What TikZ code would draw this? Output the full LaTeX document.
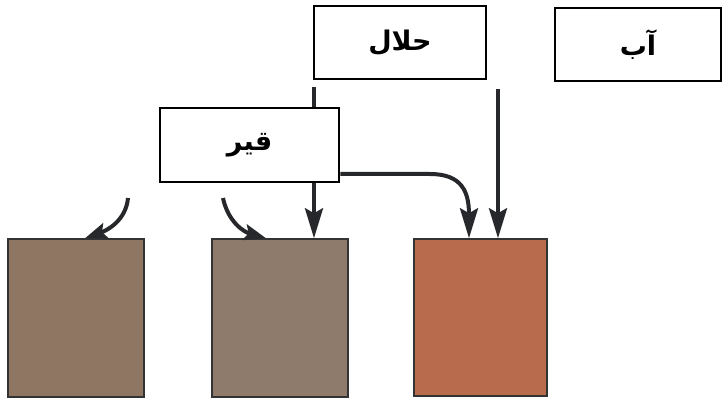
\documentclass[tikz,border=0pt]{standalone}
\usepackage{fontspec}
\usetikzlibrary{arrows.meta,calc}
\TeXXeTstate=1
\newfontfamily\arabicfont[Script=Arabic]{DejaVu Sans}
\definecolor{arrowc}{HTML}{26282B}
\definecolor{woodA}{HTML}{8F7662}
\definecolor{woodB}{HTML}{8E7B6C}
\definecolor{woodC}{HTML}{B96B4E}
\tikzset{
  labelbox/.style={draw=black, line width=2.6pt, fill=white, inner sep=0pt,
    font=\arabicfont\bfseries\fontsize{27}{30}\selectfont},
  sample/.style={draw=black!80, line width=1.5pt, inner sep=0pt},
  flow/.style={draw=arrowc, line width=4pt, -{Stealth[length=30pt,width=18pt,inset=5pt]}},
  smallflow/.style={draw=arrowc, line width=4pt, -{Stealth[length=22pt,width=16pt,inset=4pt]}}
}
\begin{document}
\begin{tikzpicture}[x=1pt,y=-1pt]
\useasboundingbox (0,0) rectangle (723,401);
% samples
\node[sample, fill=woodA, minimum width=136pt, minimum height=158pt] (s1) at (76,318) {};
\node[sample, fill=woodB, minimum width=136pt, minimum height=158pt] (s2) at (280,318) {};
\node[sample, fill=woodC, minimum width=133pt, minimum height=157pt] (s3) at (480.5,317.5) {};
% arrow start points
\coordinate (h1) at (314,87);
\coordinate (h2) at (498,89);
\coordinate (c1) at (128,198);
\coordinate (c2) at (223,198);
% arrows from halal
\draw[flow] (h1) -- (h1 |- s2.north);
\draw[flow] (h2) -- (h2 |- s3.north);
% boxes
\node[labelbox, minimum width=172pt, minimum height=73pt] (halal) at (400,42.5) {\beginR حلال\endR};
\node[labelbox, minimum width=166pt, minimum height=73pt] (ab) at (638,44.5) {\beginR آب\endR};
\node[labelbox, minimum width=179pt, minimum height=74pt] (qir) at (249.5,145) {\beginR قیر\endR};
% qir to right sample
\coordinate (q0) at ($(qir.east)+(0,29)$);
\coordinate (q3) at (469,239);
\draw[flow] (q0) -- (430,174) .. controls (462,174) and (469,192) .. (q3 |- s3.north);
% small curved arrows
\draw[smallflow] (c1) .. controls (126,220) and (108,230) .. (85,239 |- s1.north);
\draw[smallflow] (c2) .. controls (228,222) and (244,232) .. (266,239 |- s2.north);
\end{tikzpicture}
\end{document}
